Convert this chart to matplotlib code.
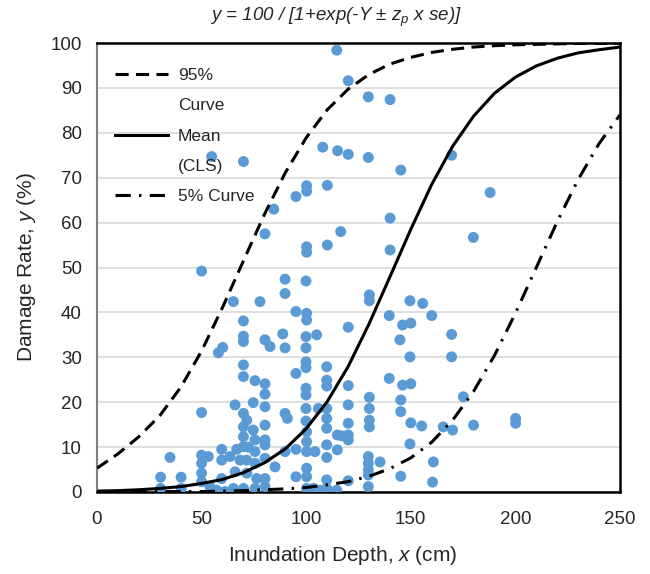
import matplotlib
matplotlib.use("Agg")
import matplotlib.pyplot as plt
from matplotlib.lines import Line2D

plt.rcParams['font.family'] = ['Liberation Sans', 'DejaVu Sans']
plt.rcParams['mathtext.fontset'] = 'custom'
plt.rcParams['mathtext.rm'] = 'Liberation Sans'
plt.rcParams['mathtext.it'] = 'Liberation Sans:italic'

# ---- observed damage data ----
depth_cm = [
    114.6, 120.1, 129.7, 140.1, 107.9, 115.0, 120.1, 129.7, 169.5, 54.8, 70.0, 145.2,
    100.2, 100.2, 95.1, 110.1, 187.9, 84.5, 140.1, 116.5, 80.3, 100.2, 100.2, 110.1,
    140.1, 179.9,
    50.0, 89.9, 89.9, 99.9, 130.2, 130.2, 149.6, 155.7, 160.0, 65.2, 77.9, 95.1,
    100.2, 100.2, 139.7, 146.1, 150.0, 120.1, 169.5, 70.0, 70.0, 70.0, 80.3, 82.7,
    88.8, 99.9, 105.0, 144.8, 89.9, 99.9, 58.0, 60.1, 149.6, 169.5,
    70.0, 70.0, 99.9, 99.9, 95.1, 109.8, 109.8, 109.8, 139.7, 146.1, 150.0, 120.1,
    99.9, 99.9, 75.5, 80.3, 80.3, 175.1, 130.2, 130.2, 145.2, 145.2, 89.9, 91.0,
    99.9, 99.9, 105.8, 109.8, 109.8, 120.1, 120.1, 130.2, 130.2, 150.0, 155.2, 165.5,
    170.0, 180.0, 200.1, 200.1, 50.0, 66.0, 74.7, 80.3, 80.3, 70.0, 71.6,
    109.8, 100.2, 114.9, 117.0, 120.1, 120.1, 100.2, 109.8, 149.6, 89.9, 95.1, 100.2,
    104.2, 109.8, 114.9, 129.7, 129.7, 129.7, 129.7, 135.3, 160.8, 95.1, 100.2, 100.2,
    109.8, 109.8, 120.1, 129.7, 145.2, 160.4, 100.2, 103.4, 106.6, 114.6, 85.1, 80.3,
    80.3,
    34.9, 30.4, 30.4, 40.2, 40.2, 50.0, 50.0, 50.0, 50.0, 53.2, 54.0, 57.2, 61.2,
    59.6, 66.8, 59.6, 63.6, 68.4, 71.6, 59.6, 66.0, 71.6, 76.3, 80.3, 65.2, 70.0,
    75.5, 80.3, 70.0, 70.0, 74.7, 75.5, 80.3, 72.3, 75.5, 75.5, 70.0,
]
damage_pct = [
    98.4, 91.6, 88.0, 87.4, 76.8, 76.0, 75.2, 74.5, 75.0, 74.7, 73.6, 71.7,
    68.2, 67.0, 65.8, 68.3, 66.7, 63.0, 61.0, 58.0, 57.5, 54.6, 53.4, 55.0,
    53.9, 56.7,
    49.2, 47.4, 44.2, 47.0, 43.9, 42.6, 42.6, 42.0, 39.3, 42.4, 42.4, 40.2,
    39.8, 38.3, 39.3, 37.2, 37.6, 36.7, 35.1, 38.1, 34.7, 33.5, 33.9, 32.4,
    35.2, 34.6, 35.0, 33.9, 32.1, 32.1, 31.0, 32.2, 30.1, 30.1,
    28.3, 25.7, 29.0, 27.7, 26.4, 27.9, 24.9, 23.6, 25.3, 23.8, 24.1, 23.7,
    23.1, 21.6, 24.8, 24.1, 21.8, 21.2, 21.1, 18.6, 20.5, 17.9, 17.5, 16.4,
    18.6, 15.8, 18.6, 18.6, 16.4, 19.4, 15.3, 16.0, 14.5, 15.4, 14.7, 14.5,
    13.8, 14.9, 16.4, 15.3, 17.7, 19.4, 19.9, 19.0, 14.9, 17.5, 16.0,
    14.2, 13.4, 12.7, 12.5, 12.7, 11.6, 11.2, 10.5, 10.7, 9.0, 9.5, 9.0,
    9.0, 7.7, 9.4, 7.9, 6.4, 4.9, 3.8, 6.7, 6.7, 3.4, 5.3, 3.4,
    2.7, 0.8, 2.5, 1.2, 3.5, 2.2, 0.8, 0.8, 0.4, 0.4, 5.6, 10.5,
    7.5,
    7.7, 3.3, 0.8, 3.3, 0.8, 8.2, 6.4, 4.2, 2.3, 7.9, 1.2, 0.4, 0.1,
    9.5, 9.5, 7.1, 7.9, 7.1, 7.1, 3.0, 4.5, 4.2, 3.0, 3.0, 0.8, 0.8,
    0.8, 1.2, 14.5, 12.3, 13.8, 11.6, 11.6, 10.0, 9.0, 6.4, 10.1,
]

# ---- confidence-limit curves ----
curve_depth = [0, 10, 20, 30, 40, 50, 60, 70, 80, 90, 100, 110, 120, 130,
               140, 150, 160, 170, 180, 190, 200, 210, 220, 230, 240, 250]
upper_95 = [5.3, 8.5, 12.3, 17.0, 23.3, 31.4, 41.1, 51.5, 61.8, 71.1, 78.9, 85.1, 89.7,
            93.0, 95.3, 96.8, 97.9, 98.6, 99.1, 99.4, 99.6, 99.7, 99.8, 99.9, 99.9, 99.9]
mean_cls = [0.2, 0.3, 0.5, 0.8, 1.2, 1.9, 2.8, 4.3, 6.5, 9.6, 14.1, 20.1, 27.9, 37.4,
            47.9, 58.5, 68.5, 77.0, 83.7, 88.8, 92.4, 94.9, 96.6, 97.8, 98.5, 99.1]
lower_5 = [0.0, 0.0, 0.0, 0.1, 0.1, 0.1, 0.2, 0.3, 0.5, 0.7, 1.0, 1.6, 2.3, 3.5,
           5.2, 7.6, 11.1, 16.0, 22.4, 30.4, 39.8, 50.0, 60.2, 69.6, 77.6, 84.0]

x_ticks = [0, 50, 100, 150, 200, 250]
y_ticks = [0, 10, 20, 30, 40, 50, 60, 70, 80, 90, 100]

fig = plt.figure(figsize=(6.5, 5.74), dpi=100)
ax = fig.add_axes([97 / 650, 1 - 492 / 574, 523 / 650, 449 / 574])

ax.scatter(depth_cm, damage_pct, s=62, color='#5B9BD5', edgecolors='none', zorder=3)

lw = 2.2
l95, = ax.plot(curve_depth, upper_95, color='black', lw=lw,
               linestyle=(0, (4.3, 2.4)), zorder=4, label='95%')
lmean, = ax.plot(curve_depth, mean_cls, color='black', lw=lw, linestyle='-', zorder=4,
                 label='Mean')
l5, = ax.plot(curve_depth, lower_5, color='black', lw=lw,
              linestyle=(0, (5, 2.7, 0.8, 2.7)), zorder=4, label='5% Curve')

ax.set_xlim(0, 250)
ax.set_ylim(0, 100)
ax.set_xticks(x_ticks)
ax.set_yticks(y_ticks)
ax.tick_params(axis='both', length=0, labelsize=13.5, colors='#262626')
ax.tick_params(axis='x', pad=14)
ax.tick_params(axis='y', pad=11)
ax.grid(axis='y', color='#D9D9D9', lw=1.2, zorder=0)
ax.set_axisbelow(True)

for side in ['top', 'right', 'bottom']:
    ax.spines[side].set_color('black')
    ax.spines[side].set_linewidth(1.8)
ax.spines['left'].set_color('#7F7F7F')
ax.spines['left'].set_linewidth(1.5)

ax.set_xlabel('Inundation Depth, $x$ (cm)', fontsize=15, color='#262626')
ax.set_ylabel('Damage Rate, $y$ (%)', fontsize=15, color='#262626')
ax.xaxis.set_label_coords(0.47, -0.115)
ax.yaxis.set_label_coords(-0.112, 0.5)

fig.text(336 / 650, 1 - 17 / 574, 'y = 100 / [1+exp(-Y ± z$_p$ x se)]',
         fontsize=13.5, style='italic', ha='center', va='center', color='#262626')

blank = Line2D([], [], color='none')
handles = [l95, blank, lmean, blank, l5]
labels = ['95%', 'Curve', 'Mean', '(CLS)', '5% Curve']
leg = ax.legend(handles, labels, loc='upper left', bbox_to_anchor=(0.034, 1 - 25 / 449),
                frameon=False, fontsize=12.5, handlelength=3.05, handletextpad=0.57,
                labelspacing=0.87, borderpad=0, borderaxespad=0)
for t in leg.get_texts():
    t.set_color('#262626')

fig.savefig('out.png', dpi=100)
